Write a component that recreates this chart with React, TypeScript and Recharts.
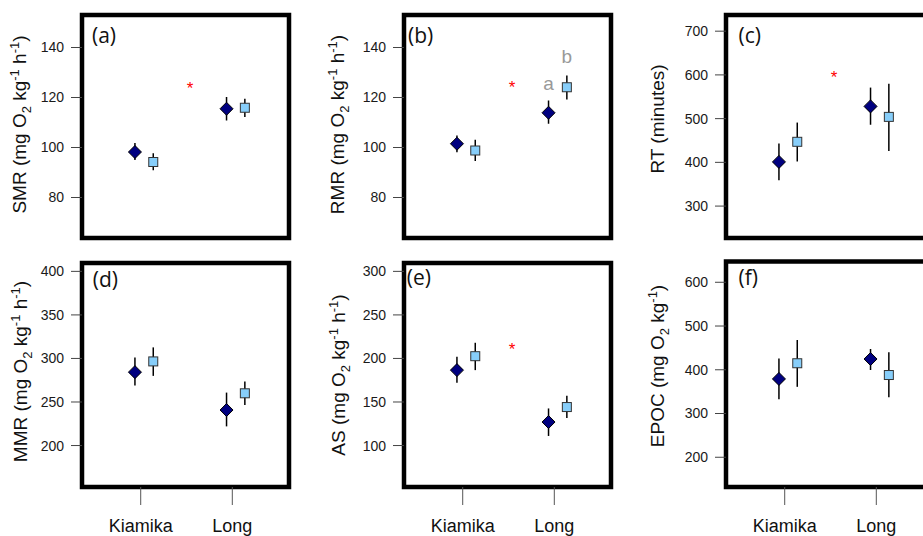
import React from 'react';
import { ScatterChart, Scatter, XAxis, YAxis, ErrorBar, ReferenceArea } from 'recharts';

// sites on the x axis
const sites = ['Kiamika', 'Long'];

// (a) SMR
const smrDiamond = [98.2, 115.5];
const smrDiamondLow = [95.0, 110.8];
const smrDiamondHigh = [101.8, 120.2];
const smrSquare = [94.2, 115.9];
const smrSquareLow = [90.9, 112.2];
const smrSquareHigh = [97.7, 119.5];
const smrTicks = [80, 100, 120, 140];

// (b) RMR
const rmrDiamond = [101.5, 113.9];
const rmrDiamondLow = [98.1, 109.5];
const rmrDiamondHigh = [104.8, 118.8];
const rmrSquare = [98.8, 124.1];
const rmrSquareLow = [94.6, 119.2];
const rmrSquareHigh = [103.1, 128.8];
const rmrTicks = [80, 100, 120, 140];
const rmrLetters = ['a', 'b'];
const rmrLetterY = [123, 133.8];

// (c) RT
const rtDiamond = [401, 528];
const rtDiamondLow = [359, 486];
const rtDiamondHigh = [443, 571];
const rtSquare = [447, 504];
const rtSquareLow = [402, 426];
const rtSquareHigh = [491, 580];
const rtTicks = [300, 400, 500, 600, 700];

// (d) MMR
const mmrDiamond = [284.3, 240.8];
const mmrDiamondLow = [269, 222];
const mmrDiamondHigh = [301, 260.8];
const mmrSquare = [296.6, 260];
const mmrSquareLow = [280, 246.6];
const mmrSquareHigh = [312.7, 273.5];
const mmrTicks = [200, 250, 300, 350, 400];

// (e) AS
const asDiamond = [186.6, 127];
const asDiamondLow = [172, 111];
const asDiamondHigh = [202, 142.6];
const asSquare = [202.6, 144.2];
const asSquareLow = [186.6, 131.5];
const asSquareHigh = [218, 157.2];
const asTicks = [100, 150, 200, 250, 300];

// (f) EPOC
const epocDiamond = [379, 424.6];
const epocDiamondLow = [332.6, 399.4];
const epocDiamondHigh = [426, 447.5];
const epocSquare = [414.9, 388];
const epocSquareLow = [361, 337];
const epocSquareHigh = [468, 440];
const epocTicks = [200, 300, 400, 500, 600];

// significance stars (y value)
const smrStar = 125;
const rmrStar = 125.5;
const rtStar = 601;
const asStar = 214.2;

const X_DOMAIN = [0.359, 2.619];
const DODGE_DIAMOND = -0.063;
const DODGE_SQUARE = 0.137;
const STAR_X = 1.54;

const COL_LEFT = [82, 404, 725.5];
const ROWS = [
  { chartTop: 0, plotTop: 15, plotBottom: 238 },
  { chartTop: 248, plotTop: 263, plotBottom: 487 },
];
const CHART_W = 309;
const FONT = '"Liberation Sans", Arial, Helvetica, sans-serif';

const toPoints = (mean: number[], low: number[], high: number[], dodge: number) =>
  sites.map((_, i) => ({ x: i + 1 + dodge, y: mean[i], err: [mean[i] - low[i], high[i] - mean[i]] }));

const Diamond = (p: any) => {
  const { cx, cy } = p;
  const r = 6.5;
  return (
    <polygon
      points={`${cx},${cy - r} ${cx + r},${cy} ${cx},${cy + r} ${cx - r},${cy}`}
      fill="#000080"
      stroke="#000"
      strokeWidth={1}
    />
  );
};

const Square = (p: any) => {
  const { cx, cy } = p;
  return <rect x={cx - 4.5} y={cy - 4.5} width={9} height={9} fill="#87CEFA" stroke="#333" strokeWidth={1} />;
};

const Star = (p: any) => (
  <text x={p.cx} y={p.cy + 9} textAnchor="middle" fill="#ff0000" fontSize={17} fontFamily={FONT}>
    *
  </text>
);

const Letter = (p: any) => (
  <text x={p.cx} y={p.cy} textAnchor="middle" fill="#999" fontSize={19} fontFamily={FONT}>
    {p.payload.t}
  </text>
);

// axis titles with sub- and superscripts
const titleBody = (name: string, units: string) => {
  if (units === 'minutes') return <>{name} (minutes)</>;
  if (units === 'mass')
    return (
      <>
        {name} (mg O
        <tspan dy={5} fontSize={13}>2</tspan>
        <tspan dy={-5}> kg</tspan>
        <tspan dy={-7} fontSize={13}>-1</tspan>
        <tspan dy={7}>)</tspan>
      </>
    );
  return (
    <>
      {name} (mg O
      <tspan dy={5} fontSize={13}>2</tspan>
      <tspan dy={-5}> kg</tspan>
      <tspan dy={-7} fontSize={13}>-1</tspan>
      <tspan dy={7}> h</tspan>
      <tspan dy={-7} fontSize={13}>-1</tspan>
      <tspan dy={7}>)</tspan>
    </>
  );
};

interface PanelDef {
  tag: string;
  name: string;
  units: string;
  col: number;
  row: number;
  domain: number[];
  ticks: number[];
  diamond: { x: number; y: number; err: number[] }[];
  square: { x: number; y: number; err: number[] }[];
  star?: number;
  letters?: { x: number; y: number; t: string }[];
  plotTop?: number;
  titleX: number;
  titleY: number;
  tagX: number;
  tagY: number;
}

const panels: PanelDef[] = [
  {
    tag: '(a)', name: 'SMR', units: 'rate', col: 0, row: 0, domain: [63.8, 153], ticks: smrTicks,
    diamond: toPoints(smrDiamond, smrDiamondLow, smrDiamondHigh, DODGE_DIAMOND),
    square: toPoints(smrSquare, smrSquareLow, smrSquareHigh, DODGE_SQUARE),
    star: smrStar, titleX: 26, titleY: 124.5, tagX: 92, tagY: 43,
  },
  {
    tag: '(b)', name: 'RMR', units: 'rate', col: 1, row: 0, domain: [63.8, 153], ticks: rmrTicks,
    diamond: toPoints(rmrDiamond, rmrDiamondLow, rmrDiamondHigh, DODGE_DIAMOND),
    square: toPoints(rmrSquare, rmrSquareLow, rmrSquareHigh, DODGE_SQUARE),
    star: rmrStar,
    letters: [
      { x: 2 + DODGE_DIAMOND, y: rmrLetterY[0], t: rmrLetters[0] },
      { x: 2 + DODGE_SQUARE, y: rmrLetterY[1], t: rmrLetters[1] },
    ],
    titleX: 22, titleY: 124.5, tagX: 86, tagY: 43,
  },
  {
    tag: '(c)', name: 'RT', units: 'minutes', col: 2, row: 0, domain: [227, 737], ticks: rtTicks,
    diamond: toPoints(rtDiamond, rtDiamondLow, rtDiamondHigh, DODGE_DIAMOND),
    square: toPoints(rtSquare, rtSquareLow, rtSquareHigh, DODGE_SQUARE),
    star: rtStar, titleX: 19.5, titleY: 119, tagX: 94.5, tagY: 43,
  },
  {
    tag: '(d)', name: 'MMR', units: 'rate', col: 0, row: 1, domain: [152.4, 409.6], ticks: mmrTicks,
    diamond: toPoints(mmrDiamond, mmrDiamondLow, mmrDiamondHigh, DODGE_DIAMOND),
    square: toPoints(mmrSquare, mmrSquareLow, mmrSquareHigh, DODGE_SQUARE),
    titleX: 27, titleY: 123.5, tagX: 92.7, tagY: 39,
  },
  {
    tag: '(e)', name: 'AS', units: 'rate', col: 1, row: 1, domain: [52.4, 309.6], ticks: asTicks,
    diamond: toPoints(asDiamond, asDiamondLow, asDiamondHigh, DODGE_DIAMOND),
    square: toPoints(asSquare, asSquareLow, asSquareHigh, DODGE_SQUARE),
    star: asStar, titleX: 23, titleY: 127, tagX: 84.7, tagY: 37,
  },
  {
    tag: '(f)', name: 'EPOC', units: 'mass', col: 2, row: 1, domain: [132, 647.5], ticks: epocTicks,
    diamond: toPoints(epocDiamond, epocDiamondLow, epocDiamondHigh, DODGE_DIAMOND),
    square: toPoints(epocSquare, epocSquareLow, epocSquareHigh, DODGE_SQUARE),
    plotTop: 261.5, titleX: 19.5, titleY: 118, tagX: 94.5, tagY: 37,
  },
];

const Panel = ({ def }: { def: PanelDef }) => {
  const row = ROWS[def.row];
  const bottomRow = def.row === 1;
  const chartLeft = COL_LEFT[def.col] - 82;
  const plotTop = def.plotTop ?? row.plotTop;
  const marginTop = plotTop - row.chartTop;
  const plotH = row.plotBottom - plotTop;
  const xAxisH = bottomRow ? 45 : 0;
  const marginBottom = bottomRow ? 6 : 10;
  const height = marginTop + plotH + xAxisH + marginBottom;

  const labels = () => (
    <g>
      <text
        x={def.titleX}
        y={def.titleY}
        transform={`rotate(-90, ${def.titleX}, ${def.titleY})`}
        textAnchor="middle"
        fontSize={19}
        fontFamily={FONT}
        fill="#111"
      >
        {titleBody(def.name, def.units)}
      </text>
      <text x={def.tagX} y={def.tagY} fontSize={21} fontFamily='"Open Sans", "Noto Sans", sans-serif' fill="#111">
        {def.tag}
      </text>
    </g>
  );

  return (
    <div style={{ position: 'absolute', left: chartLeft, top: row.chartTop }}>
      <ScatterChart
        width={CHART_W}
        height={height}
        margin={{ top: marginTop, right: 20, bottom: marginBottom, left: 22 }}
        style={{ fontFamily: FONT }}
      >
        <XAxis
          type="number"
          dataKey="x"
          domain={X_DOMAIN}
          allowDataOverflow
          ticks={[1, 2]}
          interval={0}
          tickFormatter={(v: number) => sites[v - 1] ?? ''}
          hide={!bottomRow}
          height={xAxisH}
          axisLine={false}
          tickSize={18}
          tickMargin={14}
          tickLine={{ stroke: '#555', strokeWidth: 1 }}
          tick={{ fontSize: 18, fill: '#111', fontFamily: FONT }}
        />
        <YAxis
          type="number"
          dataKey="y"
          domain={def.domain}
          allowDataOverflow
          ticks={def.ticks}
          interval={0}
          width={60}
          axisLine={false}
          tickSize={11}
          tickMargin={7}
          tickLine={{ stroke: '#444', strokeWidth: 1 }}
          tick={{ fontSize: 14, fill: '#1a1a1a', fontFamily: FONT }}
          label={labels}
        />
        <Scatter data={def.diamond} shape={Diamond} isAnimationActive={false}>
          <ErrorBar dataKey="err" direction="y" width={0} stroke="#000" strokeWidth={1.5} />
        </Scatter>
        <Scatter data={def.square} shape={Square} isAnimationActive={false}>
          <ErrorBar dataKey="err" direction="y" width={0} stroke="#000" strokeWidth={1.5} />
        </Scatter>
        {def.star !== undefined && (
          <Scatter data={[{ x: STAR_X, y: def.star }]} shape={Star} isAnimationActive={false} />
        )}
        {def.letters && <Scatter data={def.letters} shape={Letter} isAnimationActive={false} />}
        <ReferenceArea
          x1={X_DOMAIN[0]}
          x2={X_DOMAIN[1]}
          y1={def.domain[0]}
          y2={def.domain[1]}
          fill="none"
          fillOpacity={0}
          stroke="#000"
          strokeWidth={4.5}
          ifOverflow="visible"
        />
      </ScatterChart>
    </div>
  );
};

export default function App() {
  return (
    <div
      style={{
        position: 'absolute',
        left: 0,
        top: 0,
        width: 923,
        height: 536,
        overflow: 'hidden',
        background: '#fff',
      }}
    >
      {panels.map((p) => (
        <Panel key={p.tag} def={p} />
      ))}
    </div>
  );
}
